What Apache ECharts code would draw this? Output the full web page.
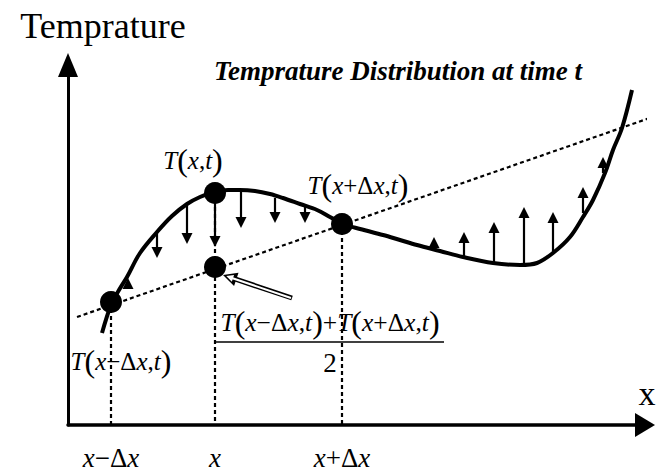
<!DOCTYPE html>
<html><head><meta charset="utf-8">
<script src="https://cdn.jsdelivr.net/npm/echarts@6/dist/echarts.min.js"></script>
<style>html,body{margin:0;padding:0;background:#fff}#c{width:667px;height:471px}</style>
</head><body><div id="c"></div>
<script>
// ---- data (x = position, y = temperature, arbitrary units) ----
const curveX = [34, 43, 51, 59, 72, 89, 104, 119, 132, 146, 160, 172, 187, 202, 215, 232, 249, 262, 275, 292, 315, 332, 349, 372, 395, 425, 452, 469, 485, 502, 515, 525, 537, 545, 554, 564];
const curveT = [92, 120, 135, 148, 172, 193, 209, 221, 228, 233, 235, 235, 234, 231, 227, 221, 215, 208, 201, 196, 190, 185, 180, 174, 168, 162, 160, 162, 172, 188, 208, 225, 252, 275, 297, 335];
const chordX = [9, 599];
const chordT = [108, 313];
const nodeX = [43, 147, 274];          // x-Δx, x, x+Δx
const nodeT = [123, 232, 201];
const avgX = 147, avgT = 158;          // (T(x-Δx)+T(x+Δx))/2
const downX = [89, 119, 147, 173, 207, 237];
const downFrom = [193, 222, 232, 235, 227, 218];
const downTo = [167, 181, 178, 197, 202, 202];
const upX = [60, 366, 396, 426, 456, 485, 515, 535];
const upFrom = [137, 178, 168, 162, 160, 173, 212, 252];
const upTo = [147, 188, 193, 203, 218, 213, 238, 268];
const pointerTail = [224, 127];
const pointerTip = [155, 150];
const tickLabels = ['{i|x}{n|−Δ}{i|x}', '{i|x}', '{i|x}{n|+Δ}{i|x}'];
const nodeLabels = [
  '{i|T}{p|(}{i|x}{n|−Δ}{i|x}{n|,}{i|t}{p|)}',
  '{i|T}{p|(}{i|x}{n|,}{i|t}{p|)}',
  '{i|T}{p|(}{i|x}{n|+Δ}{i|x}{n|,}{i|t}{p|)}'
];
const avgLabel = '{i|T}{p|(}{i|x}{n|−Δ}{i|x}{n|,}{i|t}{p|)}{n|+}{i|T}{p|(}{i|x}{n|+Δ}{i|x}{n|,}{i|t}{p|)}\n{bar| }\n{d|2}';

// ---- styles ----
const SERIF = 'Liberation Serif';
const rich = {
  i: {fontFamily: SERIF, fontStyle: 'italic', fontSize: 25, color: '#000'},
  n: {fontFamily: SERIF, fontSize: 25, color: '#000'},
  p: {fontFamily: SERIF, fontSize: 32, color: '#000'}
};
const fracRich = Object.assign({}, rich, {
  i: {fontFamily: SERIF, fontStyle: 'italic', fontSize: 25.5, color: '#000', lineHeight: 38},
  n: {fontFamily: SERIF, fontSize: 25.5, color: '#000'},
  bar: {width: 228, height: 1.5, lineHeight: 2, backgroundColor: '#000', fontSize: 1},
  d: {fontFamily: SERIF, fontSize: 27, color: '#000', lineHeight: 40}
});
const HEAD = 11;
function arrow(x0, y0, x1, y1, head) {
  const dx = x1 - x0, dy = y1 - y0, L = Math.hypot(dx, dy);
  return {coords: [[x0, y0], [x1 - dx / L * head / 2, y1 - dy / L * head / 2]]};
}
const arrows = [];
downX.forEach((x, k) => arrows.push(arrow(x, downFrom[k], x, downTo[k], HEAD)));
upX.forEach((x, k) => arrows.push(arrow(x, upFrom[k], x, upTo[k], HEAD)));
const verticals = nodeX.map((x, k) => ({coords: [[x, nodeT[k]], [x, 0]]}));
const labelOffsets = [[10, 59], [-22, -33], [16, -39]];
const nodeOrder = [0, 1, 2];

const chart = echarts.init(document.getElementById('c'), null, {renderer: 'svg'});
chart.setOption({
  animation: false,
  backgroundColor: '#fff',
  title: {
    text: 'Temprature Distribution at time t',
    left: 398, top: 57, textAlign: 'center', padding: 0,
    textStyle: {fontFamily: SERIF, fontWeight: 'bold', fontStyle: 'italic', fontSize: 27, lineHeight: 27, color: '#000'}
  },
  grid: {left: 68, top: 65, right: 22, bottom: 46, containLabel: false, outerBoundsMode: 'none'},
  xAxis: {
    type: 'value', min: 0, max: 577,
    name: 'x', nameLocation: 'end', nameGap: 2,
    nameTextStyle: {fontFamily: SERIF, fontSize: 34, lineHeight: 34, color: '#000', align: 'center', verticalAlign: 'bottom', padding: [0, 0, 15, 0]},
    axisLine: {show: true, onZero: false, symbol: ['none', 'triangle'], symbolSize: [24, 20], lineStyle: {color: '#000', width: 3.5}},
    axisTick: {show: false},
    splitLine: {show: false},
    axisLabel: {
      show: true, margin: 19, customValues: nodeX,
      formatter: v => { const k = nodeX.indexOf(v); return k < 0 ? '' : tickLabels[k]; },
      rich: {
        i: {fontFamily: SERIF, fontStyle: 'italic', fontSize: 27, color: '#000'},
        n: {fontFamily: SERIF, fontSize: 27, color: '#000'}
      }
    }
  },
  yAxis: {
    type: 'value', min: 0, max: 360,
    name: 'Temprature', nameLocation: 'end', nameGap: 21,
    nameTextStyle: {fontFamily: SERIF, fontSize: 36, lineHeight: 36, color: '#000', padding: [0, 0, 0, 70]},
    axisLine: {show: true, onZero: false, symbol: ['none', 'triangle'], symbolSize: [20, 24], lineStyle: {color: '#000', width: 3}},
    axisTick: {show: false}, axisLabel: {show: false}, splitLine: {show: false}
  },
  series: [
    {type: 'line', data: chordX.map((x, k) => [x, chordT[k]]), showSymbol: false, clip: false,
      lineStyle: {color: '#000', width: 2.2, type: [4, 3]}, z: 1},
    {type: 'lines', coordinateSystem: 'cartesian2d', data: verticals, z: 1,
      lineStyle: {color: '#000', width: 2.2, type: [4, 3], opacity: 1, curveness: 0}},
    {type: 'line', data: curveX.map((x, k) => [x, curveT[k]]), smooth: 0.35, showSymbol: false, clip: false,
      lineStyle: {color: '#000', width: 4}, z: 2},
    {type: 'lines', coordinateSystem: 'cartesian2d', data: arrows, z: 3,
      symbol: ['none', 'triangle'], symbolSize: [10, HEAD],
      lineStyle: {color: '#000', width: 2.2, opacity: 1, curveness: 0}},
    {type: 'lines', coordinateSystem: 'cartesian2d', z: 4,
      data: [arrow(pointerTail[0], pointerTail[1], pointerTip[0], pointerTip[1], 14)],
      symbol: ['none', 'triangle'], symbolSize: [12, 14],
      lineStyle: {color: '#000', width: 5, opacity: 1, curveness: 0}},
    {type: 'lines', coordinateSystem: 'cartesian2d', z: 5,
      data: [arrow(pointerTail[0] - 1, pointerTail[1], pointerTip[0], pointerTip[1], 14)],
      symbol: ['none', 'triangle'], symbolSize: [6, 7],
      lineStyle: {color: '#fff', width: 2, opacity: 1, curveness: 0}},
    {type: 'scatter', symbol: 'circle', symbolSize: 22, z: 6,
      itemStyle: {color: '#000', opacity: 1},
      data: nodeOrder.map(k => ({
        value: [nodeX[k], nodeT[k]],
        label: {show: true, position: 'inside', offset: labelOffsets[k], formatter: nodeLabels[k], rich: rich}
      })).concat([{
        value: [avgX, avgT],
        label: {show: true, position: 'inside', offset: [115, 76], align: 'center', formatter: avgLabel, rich: fracRich}
      }])
    }
  ]
});
</script></body></html>
